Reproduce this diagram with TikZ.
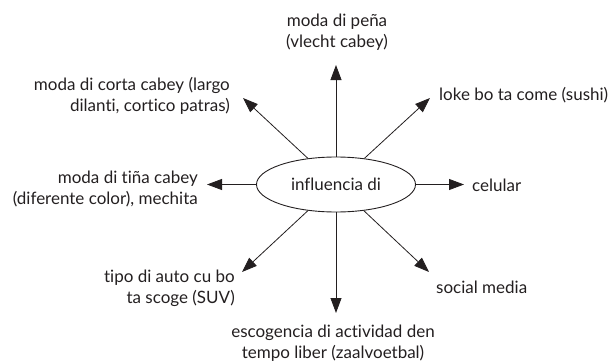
\documentclass[tikz,border=0pt]{standalone}
\usepackage{fontspec}
\setmainfont{Lato}[Ligatures=NoCommon]
\usetikzlibrary{arrows.meta,shapes.geometric}
\definecolor{ink}{HTML}{231F20}
\begin{document}
\begin{tikzpicture}[x=1pt,y=-1pt,
  lbl/.style={inner sep=0pt,text=ink,font=\fontsize{17}{21}\selectfont},
  hub/.style={ellipse,draw=ink,line width=0.9pt,minimum width=159pt,minimum height=55pt,inner sep=0pt,text=ink,font=\fontsize{17}{21}\selectfont},
  arr/.style={draw=ink,line width=0.8pt,-{Triangle[length=15pt,width=11pt]}}]
\useasboundingbox (0,0) rectangle (611,364);
\node[hub] (c) at (336,184.5) {influencia di};
% labels
\node[lbl,align=center] (top) at (337,32) {moda di peña\\(vlecht cabey)};
\node[lbl,align=right,anchor=east] (ul) at (230,96) {moda di corta cabey (largo\\dilanti, cortico patras)};
\node[lbl,anchor=west] (ur) at (439,95) {loke bo ta come (sushi)};
\node[lbl,align=right,anchor=east] (le) at (198,189) {moda di tiña cabey\\(diferente color), mechita};
\node[lbl,anchor=west] (ri) at (472,185) {celular};
\node[lbl,align=right,anchor=east] (ll) at (235,288.7) {tipo di auto cu bo\\ta scoge (SUV)};
\node[lbl,anchor=west] (lr) at (436,287) {social media};
\node[lbl,align=center] (bo) at (333,343) {escogencia di actividad den\\tempo liber (zaalvoetbal)};
% arrow tips
\coordinate (ttop) at (336,65);
\coordinate (tul) at (243,98);
\coordinate (tur) at (430,98);
\coordinate (tle) at (207,184.5);
\coordinate (tri) at (464,184.5);
\coordinate (tll) at (242,272);
\coordinate (tlr) at (429,272);
\coordinate (tbo) at (336,313);
\draw[arr] (c) -- (ttop);
\draw[arr] (c) -- (tul);
\draw[arr] (c) -- (tur);
\draw[arr] (c) -- (tle);
\draw[arr] (c) -- (tri);
\draw[arr] (c) -- (tll);
\draw[arr] (c) -- (tlr);
\draw[arr] (c) -- (tbo);
\end{tikzpicture}
\end{document}
